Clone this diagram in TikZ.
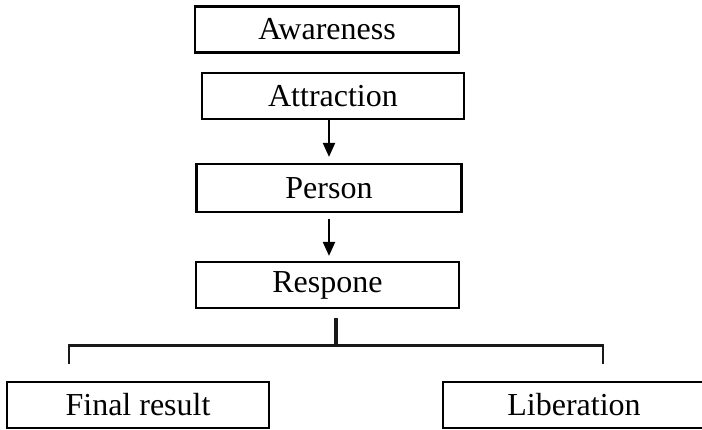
\documentclass[tikz,border=0pt]{standalone}
\usepackage{fontspec}
\setmainfont{Liberation Serif}
\usepackage{tikz}
\usetikzlibrary{arrows.meta, positioning, calc}
\tikzset{
  stage/.style={
    rectangle, draw=black, line width=2.2pt,
    minimum height=46pt, inner sep=0pt,
    text centered, font=\fontsize{32}{36}\selectfont,
  },
  arrow/.style={-{Triangle[length=14pt, width=12pt]}, line width=2.2pt, color=black},
  stem/.style={line width=4pt, color=black!90},
  branch/.style={line width=2.6pt, color=black!90},
}

\begin{document}
\begin{tikzpicture}[x=1pt, y=-1pt]
  \useasboundingbox (0,0) rectangle (702,430);

  \node[stage, minimum width=264pt] (awareness) at (327,29.5) {Awareness};
  \node[stage, minimum width=262pt] (attraction) at (333,96) {Attraction};
  \node[stage, minimum width=265pt, minimum height=48pt] (person) at (329,188) {Person};
  \node[stage, minimum width=263pt] (respone) at (327.5,285) {Respone};
  \node[stage, minimum width=262pt] (final) at (138,405) {Final result};
  \node[stage, minimum width=262pt] (liberation) at (574,405) {Liberation};

  \coordinate (fork) at (336,345.7);
  \coordinate (forkL) at (69,364);
  \coordinate (forkR) at (603,364);

  \draw[arrow, shorten >=6pt] (attraction.south -| person.north) -- (person.north);
  \draw[arrow, shorten <=6pt, shorten >=5pt] (person.south) -- (person.south |- respone.north);
  \draw[stem, shorten <=9pt] ([xshift=8.5pt]respone.south) -- (fork);
  \draw[branch] (forkL) |- (fork) -| (forkR);

\end{tikzpicture}
\end{document}
